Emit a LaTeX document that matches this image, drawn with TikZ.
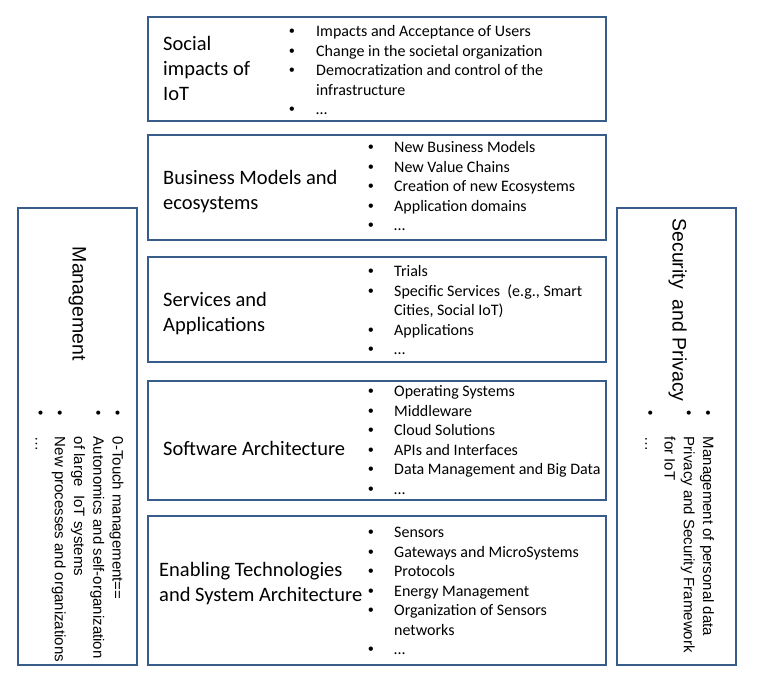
\documentclass[tikz,border=0pt]{standalone}
\usepackage{fontspec}
\setmainfont{Carlito}
\newfontfamily\sidefont{Liberation Sans}
\definecolor{framecol}{RGB}{56,93,138}
\newlength\bw
\newcommand\bl{\makebox[\bw][l]{\makebox[0pt]{\sidefont\textbullet}}}
\tikzset{
 panel/.style={draw=framecol, line width=1.8pt, rectangle, inner sep=0pt, outer sep=0pt},
 boxtitle/.style={anchor=base west, inner sep=0pt, font=\fontsize{20.5}{25}\selectfont},
 items/.style={anchor=base west, inner sep=0pt, font=\fontsize{16}{19.5}\selectfont},
 sidetitle/.style={anchor=base west, inner sep=0pt, rotate=-90, font=\sidefont\fontsize{19.5}{24}\selectfont},
 sideitems/.style={anchor=base west, inner sep=0pt, rotate=-90, font=\sidefont\fontsize{15}{19.25}\selectfont},
}
\begin{document}
\begin{tikzpicture}[x=1pt,y=-1pt]
\fill[white] (0,0) rectangle (757,682);
\useasboundingbox (0,0) rectangle (757,682);

% panels
\node[panel, minimum width=458pt, minimum height=104pt] (social) at (377,69) {};
\node[panel, minimum width=458pt, minimum height=105pt] (business) at (377,187.5) {};
\node[panel, minimum width=458pt, minimum height=105pt] (services) at (377,309.5) {};
\node[panel, minimum width=458pt, minimum height=119pt] (software) at (377,440.5) {};
\node[panel, minimum width=458pt, minimum height=149pt] (enabling) at (377,590.5) {};
\node[panel, minimum width=119pt, minimum height=457pt] (mgmt) at (77.5,436.5) {};
\node[panel, minimum width=119pt, minimum height=457pt] (secu) at (676.5,436.5) {};

% Social
\node[boxtitle] (socialT) at (163,50.7) {\begin{tabular}[t]{@{}l@{}}Social\\impacts of\\IoT\end{tabular}};
\node[items] (socialL) at (291.7,36.7) {\setlength\bw{24.3pt}\begin{tabular}[t]{@{}l@{}l@{}}
\bl & Impacts and Acceptance of Users\\
\bl & Change in the societal organization\\
\bl & Democratization and control of the\\
 & infrastructure\\
\bl & …\end{tabular}};

% Business
\node[boxtitle] (businessT) at (163,184) {\begin{tabular}[t]{@{}l@{}}Business Models and\\ecosystems\end{tabular}};
\node[items] (businessL) at (370.7,152.7) {\setlength\bw{23.3pt}\begin{tabular}[t]{@{}l@{}l@{}}
\bl & New Business Models\\
\bl & New Value Chains\\
\bl & Creation of new Ecosystems\\
\bl & Application domains\\
\bl & …\end{tabular}};

% Services
\node[boxtitle] (servicesT) at (163,306.7) {\begin{tabular}[t]{@{}l@{}}Services and\\Applications\end{tabular}};
\node[items] (servicesL) at (370.7,276.7) {\setlength\bw{23.3pt}\begin{tabular}[t]{@{}l@{}l@{}}
\bl & Trials\\
\bl & Specific Services~ (e.g., Smart\\
 & Cities, Social IoT)\\
\bl & Applications\\
\bl & …\end{tabular}};

% Software
\node[boxtitle] (softwareT) at (163,455) {Software Architecture};
\node[items] (softwareL) at (370.7,396.7) {\setlength\bw{23.3pt}\begin{tabular}[t]{@{}l@{}l@{}}
\bl & Operating Systems\\
\bl & Middleware\\
\bl & Cloud Solutions\\
\bl & APIs and Interfaces\\
\bl & Data Management and Big Data\\
\bl & …\end{tabular}};

% Enabling
\node[boxtitle] (enablingT) at (159,576.7) {\begin{tabular}[t]{@{}l@{}}Enabling Technologies\\and System Architecture\end{tabular}};
\node[items] (enablingL) at (370.7,537.7) {\setlength\bw{23.3pt}\begin{tabular}[t]{@{}l@{}l@{}}
\bl & Sensors\\
\bl & Gateways and MicroSystems\\
\bl & Protocols\\
\bl & Energy Management\\
\bl & Organization of Sensors\\
 & networks\\
\bl & …\end{tabular}};

% Management (left)
\node[sidetitle] (mgmtT) at (72.5,246.7) {Management};
\node[sideitems] (mgmtL) at (112.5,412.7) {\setlength\bw{24pt}\begin{tabular}[t]{@{}l@{}l@{}}
\bl & 0-Touch management==\\
\bl & Autonomics and self-organization\\
 & of large~ IoT systems\\
\bl & New processes and organizations\\
\bl & …\end{tabular}};

% Security (right)
\node[sidetitle] (secuT) at (672.7,218.3) {Security~ and Privacy};
\node[sideitems] (secuL) at (703,412.7) {\setlength\bw{24pt}\begin{tabular}[t]{@{}l@{}l@{}}
\bl & Management of personal data\\
\bl & Privacy and Security Framework\\
 & for IoT\\
\bl & …\end{tabular}};
\end{tikzpicture}
\end{document}
